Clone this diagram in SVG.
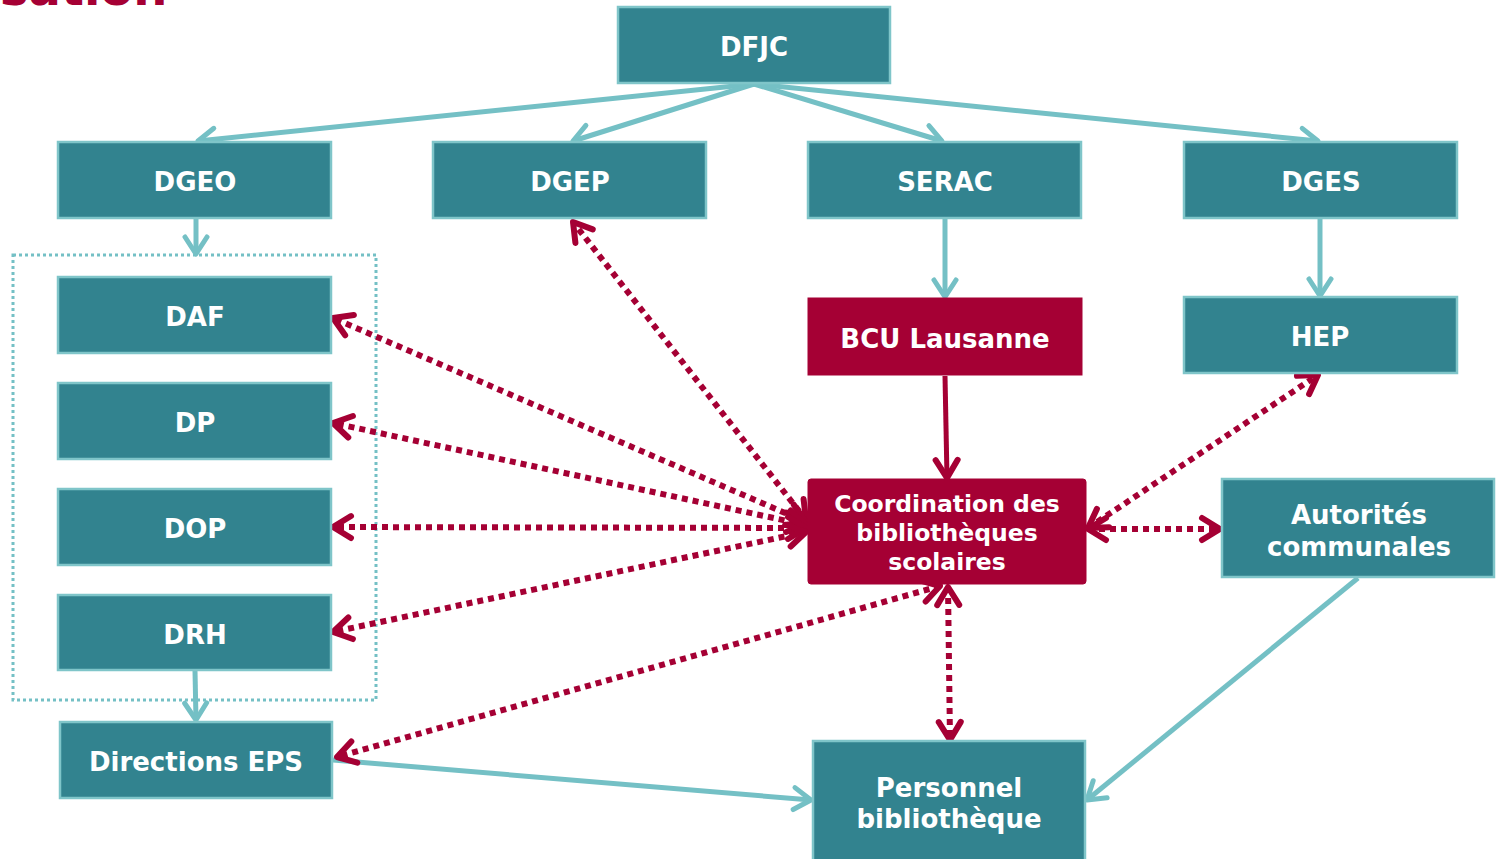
<svg xmlns="http://www.w3.org/2000/svg" width="1496" height="859" viewBox="0 0 1496 859">
<style>
.tbox{fill:#32838F;stroke:#7FC5C9;stroke-width:2.5}
.rbox{fill:#A50034;stroke:#A50034;stroke-width:1}
.lbl{fill:#FFFFFF;font-family:"DejaVu Sans","Verdana",sans-serif;font-weight:bold;font-size:26px;text-anchor:middle}
.small{font-size:23.5px}
.tl{fill:none;stroke:#74C0C5;stroke-width:5;marker-end:url(#at)}
.rl{fill:none;stroke:#A50034;stroke-width:6;stroke-dasharray:6 5;marker-start:url(#ar);marker-end:url(#ar)}
.rs{fill:none;stroke:#A50034;stroke-width:5;marker-end:url(#ar)}
</style>
<defs>
<marker id="at" markerUnits="userSpaceOnUse" viewBox="-26 -16 30 32" markerWidth="30" markerHeight="32" refX="0" refY="0" orient="auto-start-reverse">
<path d="M-17,-11 L0,0 L-17,11" fill="none" stroke="#74C0C5" stroke-width="5" stroke-linecap="round" stroke-linejoin="round"/>
</marker>
<marker id="ar" markerUnits="userSpaceOnUse" viewBox="-26 -16 30 32" markerWidth="30" markerHeight="32" refX="0" refY="0" orient="auto-start-reverse">
<path d="M-18,-11 L0,0 L-18,11" fill="none" stroke="#A50034" stroke-width="6" stroke-linecap="round" stroke-linejoin="round"/>
</marker>
</defs>
<rect width="1496" height="859" fill="#FFFFFF"/>
<text x="0" y="5" fill="#A50034" font-family="DejaVu Sans, Verdana, sans-serif" font-weight="bold" font-size="48">sation</text>
<rect id="group-frame" x="13" y="255" width="363" height="445" fill="none" stroke="#74C0C5" stroke-width="3" stroke-dasharray="3 3"/>
<g id="connectors">
<line class="tl" x1="754" y1="84" x2="198" y2="141"/>
<line class="tl" x1="754" y1="84" x2="573" y2="141"/>
<line class="tl" x1="754" y1="84" x2="942" y2="141"/>
<line class="tl" x1="754" y1="84" x2="1318" y2="141"/>
<line class="tl" x1="196" y1="219" x2="196" y2="254"/>
<line class="tl" x1="945" y1="219" x2="945" y2="297"/>
<line class="tl" x1="1320" y1="219" x2="1320" y2="296"/>
<line class="tl" x1="195" y1="671" x2="196" y2="720"/>
<line class="tl" x1="333" y1="760" x2="811" y2="800"/>
<line class="tl" x1="1358" y1="578" x2="1087" y2="800"/>
<line class="rs" x1="945" y1="376" x2="947" y2="478"/>
<line class="rl" x1="806" y1="520" x2="573" y2="222"/>
<line class="rl" x1="806" y1="522" x2="333" y2="318"/>
<line class="rl" x1="806" y1="525" x2="333" y2="423"/>
<line class="rl" x1="806" y1="528" x2="333" y2="527"/>
<line class="rl" x1="806" y1="532" x2="333" y2="632"/>
<line class="rl" x1="940" y1="586" x2="337" y2="757"/>
<line class="rl" x1="948" y1="587" x2="950" y2="740"/>
<line class="rl" x1="1088" y1="528" x2="1318" y2="375"/>
<line class="rl" x1="1088" y1="529" x2="1220" y2="529"/>
</g>
<g id="DFJC"><rect class="tbox" x="618" y="7" width="272" height="76"/><text class="lbl" x="754" y="56">DFJC</text></g>
<g id="DGEO"><rect class="tbox" x="58" y="142" width="273" height="76"/><text class="lbl" x="195" y="191">DGEO</text></g>
<g id="DGEP"><rect class="tbox" x="433" y="142" width="273" height="76"/><text class="lbl" x="570" y="191">DGEP</text></g>
<g id="SERAC"><rect class="tbox" x="808" y="142" width="273" height="76"/><text class="lbl" x="945" y="191">SERAC</text></g>
<g id="DGES"><rect class="tbox" x="1184" y="142" width="273" height="76"/><text class="lbl" x="1321" y="191">DGES</text></g>
<g id="DAF"><rect class="tbox" x="58" y="277" width="273" height="76"/><text class="lbl" x="195" y="326">DAF</text></g>
<g id="DP"><rect class="tbox" x="58" y="383" width="273" height="76"/><text class="lbl" x="195" y="432">DP</text></g>
<g id="DOP"><rect class="tbox" x="58" y="489" width="273" height="76"/><text class="lbl" x="195" y="538">DOP</text></g>
<g id="DRH"><rect class="tbox" x="58" y="595" width="273" height="75"/><text class="lbl" x="195" y="644">DRH</text></g>
<g id="DirectionsEPS"><rect class="tbox" x="60" y="722" width="272" height="76"/><text class="lbl" x="196" y="771">Directions EPS</text></g>
<g id="BCU"><rect class="rbox" x="808" y="298" width="274" height="77"/><text class="lbl" x="945" y="348">BCU Lausanne</text></g>
<g id="HEP"><rect class="tbox" x="1184" y="297" width="273" height="76"/><text class="lbl" x="1320" y="346">HEP</text></g>
<g id="Coordination"><rect class="rbox" x="808" y="479" width="278" height="105" rx="3"/><text class="lbl small" x="947" y="512">Coordination des</text><text class="lbl small" x="947" y="541">bibliothèques</text><text class="lbl small" x="947" y="570">scolaires</text></g>
<g id="Autorites"><rect class="tbox" x="1222" y="479" width="272" height="98"/><text class="lbl" x="1359" y="524">Autorités</text><text class="lbl" x="1359" y="556">communales</text></g>
<g id="Personnel"><rect class="tbox" x="813" y="741" width="272" height="130"/><text class="lbl" x="949" y="797">Personnel</text><text class="lbl" x="949" y="828">bibliothèque</text></g>
</svg>
